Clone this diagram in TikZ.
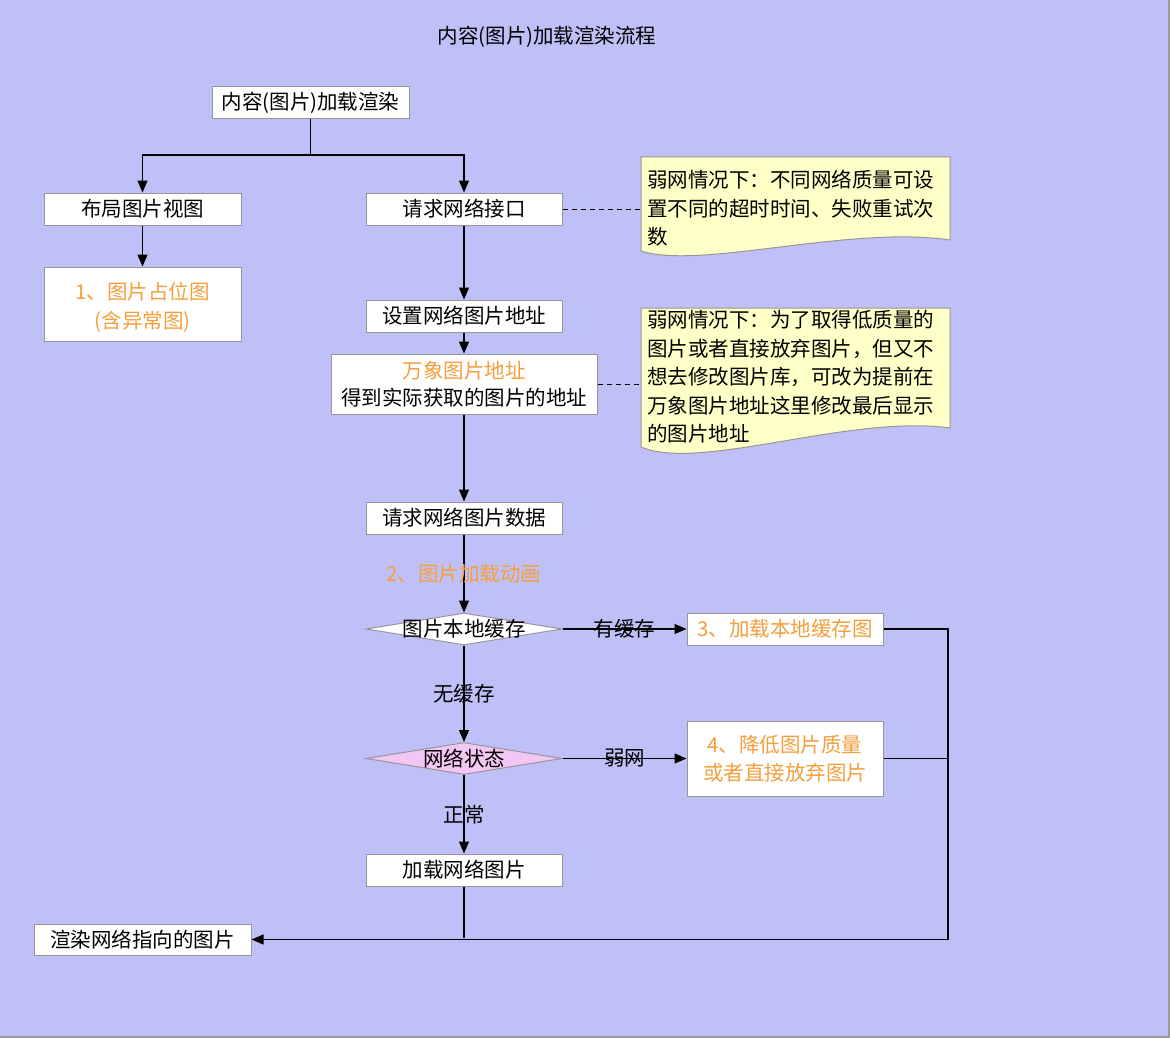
\documentclass[tikz,border=0pt]{standalone}
\usepackage{fontspec}
\newfontfamily\cjk{Noto Sans CJK SC}
\usetikzlibrary{arrows.meta,shapes.geometric}
\definecolor{bg}{RGB}{192,192,248}
\definecolor{org}{RGB}{245,158,60}
\definecolor{notefill}{RGB}{255,255,200}
\definecolor{pinkf}{RGB}{244,198,244}
\definecolor{edgegray}{RGB}{150,150,150}
\begin{document}
\begin{tikzpicture}[x=1pt,y=-1pt,
  font=\cjk\fontsize{20.5}{28}\selectfont,
  box/.style={draw=edgegray, line width=1pt, fill=white, minimum height=32pt, inner sep=0pt, align=center},
  dia/.style={diamond, draw=edgegray, line width=1pt, inner sep=0pt, minimum width=196pt, minimum height=32pt},
  conn/.style={line width=1.2pt, -{Triangle[length=12pt,width=10pt]}},
  plain/.style={line width=1.2pt},
  dashline/.style={line width=1pt, dash pattern=on 5pt off 4pt},
  notebox/.style={draw=edgegray, line width=1pt, fill=notefill},
  notetext/.style={anchor=north west, inner sep=0pt, align=left, font=\cjk\fontsize{20.5}{28.5}\selectfont},
  lab/.style={inner sep=1pt}
]
\useasboundingbox (0,0) rectangle (1170,1038);
\fill[bg] (0,0) rectangle (1170,1038);
\draw[line width=2pt, gray!80] (1169,0) -- (1169,1037) -- (0,1037);

\node (title) at (547,37) {内容(图片)加载渲染流程};

\node[box, minimum width=197pt] (n0) at (310.5,102.5) {内容(图片)加载渲染};
\node[box, minimum width=197pt] (layout) at (142.5,209) {布局图片视图};
\node[box, minimum width=196pt] (req) at (464,209) {请求网络接口};
\node[box, minimum width=197pt, minimum height=74pt, text=org, font=\cjk\fontsize{20.5}{29}\selectfont] (ph) at (142.5,304) {\rule{0pt}{25pt}1、图片占位图\\(含异常图)};
\node[box, minimum width=196pt] (seturl) at (464,316) {设置网络图片地址};
\node[box, minimum width=266pt, minimum height=60pt, font=\cjk\fontsize{20.5}{27}\selectfont] (wx) at (464,384) {\textcolor{org}{万象图片地址}\\得到实际获取的图片的地址};
\node[box, minimum width=196pt] (reqd) at (464,518) {请求网络图片数据};
\node[dia, fill=white] (d1) at (464,629) {};
\node (d1t) at (d1.center) {图片本地缓存};
\node[box, minimum width=196pt, text=org] (b3) at (785,629) {3、加载本地缓存图};
\node[dia, fill=pinkf] (d2) at (464,758.5) {};
\node (d2t) at (d2.center) {网络状态};
\node[box, minimum width=196pt, minimum height=75pt, text=org] (b4) at (785,758.5) {4、降低图片质量\\或者直接放弃图片};
\node[box, minimum width=196pt] (loadnet) at (464,870) {加载网络图片};
\node[box, minimum width=217pt, minimum height=31pt] (render) at (142.5,939.5) {渲染网络指向的图片};

% notes
\path[notebox] (641,157) -- (950,157) -- (950,240)
  .. controls (850,225) and (700,270) .. (641,251) -- cycle;
\node[notetext] (note1) at (647,170) {弱网情况下：不同网络质量可设\\置不同的超时时间、失败重试次\\数};
\path[notebox] (641,308) -- (950,308) -- (950,428)
  .. controls (850,414) and (700,472) .. (641,447) -- cycle;
\node[notetext] (note2) at (647,310) {弱网情况下：为了取得低质量的\\图片或者直接放弃图片，但又不\\想去修改图片库，可改为提前在\\万象图片地址这里修改最后显示\\的图片地址};
\coordinate (c1) at (641,209);
\coordinate (c2) at (641,384);
\draw[dashline] (req.east) -- (c1);
\draw[dashline] (wx.east) -- (c2);

% connectors
\coordinate (split) at (310.5,155);
\draw[plain] (n0.south) -- (split);
\draw[conn] (split) -| (layout.north);
\draw[conn] (split) -| (req.north);
\draw[conn] (layout) -- (ph);
\draw[conn] (req) -- (seturl);
\draw[conn] (seturl) -- (wx);
\draw[conn] (wx) -- (reqd);
\draw[conn] (reqd) -- node[lab, text=org] {2、图片加载动画} (d1.north);
\draw[conn] (d1.east) -- node[lab] {有缓存} (b3);
\draw[conn] (d1.south) -- node[lab] {无缓存} (d2.north);
\draw[conn] (d2.east) -- node[lab] {弱网} (b4);
\draw[conn] (d2.south) -- node[lab] {正常} (loadnet);
\coordinate (rj) at (948,629);
\coordinate (rj4) at (948,758.5);
\coordinate (bot) at (464,938);
\draw[plain] (loadnet.south) -- (bot);
\draw[plain] (b4.east) -- (rj4);
\draw[conn] (b3.east) -- (rj) |- (render.east);
\end{tikzpicture}
\end{document}
